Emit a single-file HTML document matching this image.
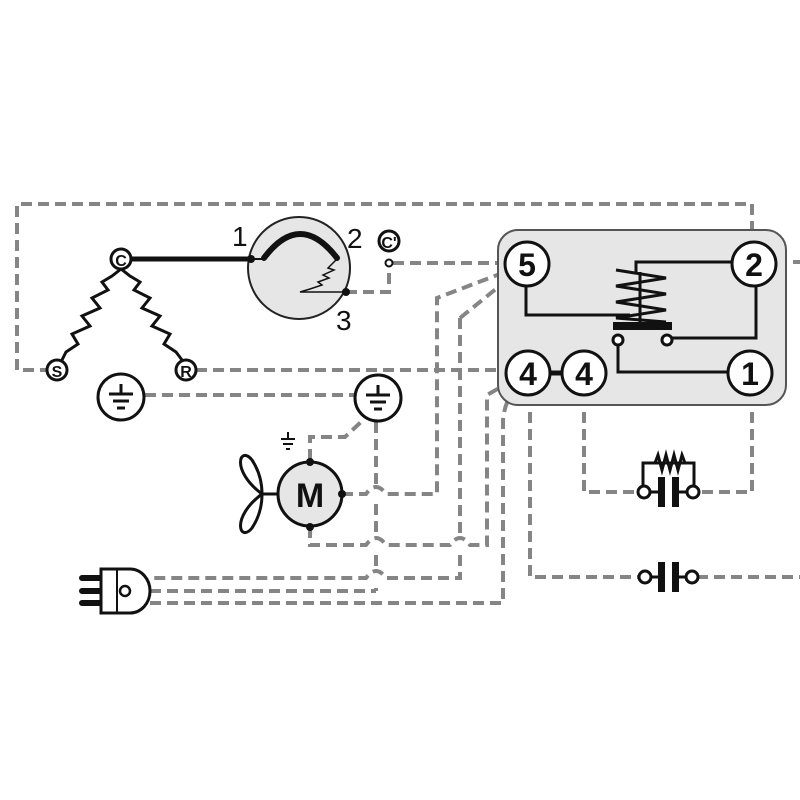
<!DOCTYPE html>
<html><head><style>body{margin:0;background:#fff}svg{display:block}</style></head><body>
<svg width="800" height="800" viewBox="0 0 800 800" xmlns="http://www.w3.org/2000/svg" font-family="Liberation Sans Narrow, Liberation Sans, sans-serif">
<g fill="none" stroke="#858585" stroke-width="4" stroke-dasharray="11 6">
<path d="M752 232 V204 H17 V370 H47"/>
<path d="M196 370 H506"/>
<path d="M145 395 H354"/>
<path d="M776 262 H800"/>
<path d="M346 292 H389 V267"/>
<path d="M393 263 H505"/>
<path d="M310 460 V437 H345 L362 421"/>
<path d="M376 422 V484 M376 504 V535 M376 555 V568 M376 588 V591"/>
<path d="M342 494 H366 Q376 480 386 494 H437 V298 L505 272"/>
<path d="M460 318 L507 280 M460 318 V535 M460 555 V578 H386 Q376 564 366 578 H150"/>
<path d="M310 527 V545 H366 Q376 531 386 545 H450 Q460 531 470 545 H487 V395 L508 383"/>
<path d="M150 591 H376"/>
<path d="M150 603 H503 V420 Q505 400 515 390"/>
<path d="M584 395 V492 H639"/>
<path d="M752 395 V492 H697"/>
<path d="M530 395 V577 H640"/>
<path d="M697 577 H800"/>
</g>
<rect x="498" y="230" width="288" height="175" rx="20" fill="#e6e6e6" stroke="#555" stroke-width="2"/>
<g stroke="#111" fill="none" stroke-width="3">
<path d="M526 280 V315 H630"/>
<path d="M732 262 H636 V272"/>
<path d="M756 285 V338 H672"/>
<path d="M618 345 V372 H728"/>
<path d="M616 270 L666 278 L616 286 L666 294 L616 302 L666 310 L616 318 L666 322" stroke-width="3"/>
<path d="M640 272 V326"/>
<path d="M131 259 H251" stroke-width="5"/>
<path d="M550 373 H562" stroke-width="5"/>
<path d="M121 269 L112 276 L102 282 L108 290 L92 298 L100 308 L82 316 L90 326 L72 334 L78 344 L66 352 L62 360"/>
<path d="M121 269 L130 276 L140 282 L134 290 L150 298 L142 308 L160 316 L152 326 L170 334 L164 344 L176 352 L182 360"/>
</g>
<circle cx="299" cy="268" r="51" fill="#e6e6e6" stroke="#222" stroke-width="2"/>
<path d="M264 258 Q300 210 337 258" fill="none" stroke="#111" stroke-width="6" stroke-linecap="round"/>
<path d="M251 259 H266" stroke="#111" stroke-width="2"/>
<path d="M336 260 L328 268 L334 270 L323 275 L329 278 L318 282 L322 285 L310 289 L300 292 H346" fill="none" stroke="#111" stroke-width="1.5"/>
<circle cx="251" cy="259" r="4" fill="#111"/>
<circle cx="346" cy="292" r="4" fill="#111"/>
<g font-size="28" fill="#111"><text x="232" y="246">1</text><text x="347" y="248">2</text><text x="336" y="330">3</text></g>
<g fill="#fff" stroke="#111" stroke-width="3">
<circle cx="121" cy="259" r="10"/><circle cx="57" cy="370" r="10"/><circle cx="186" cy="370" r="10"/><circle cx="389" cy="241" r="10"/>
<circle cx="121" cy="397" r="23"/><circle cx="378" cy="398" r="23"/>
<circle cx="527" cy="264" r="22"/><circle cx="754" cy="264" r="22"/><circle cx="528" cy="373" r="22"/><circle cx="584" cy="373" r="22"/><circle cx="750" cy="373" r="22"/>
</g>
<circle cx="389" cy="263" r="3.5" fill="#fff" stroke="#111" stroke-width="2"/>
<g font-weight="bold" fill="#111" text-anchor="middle">
<text x="121" y="266" font-size="16">C</text><text x="57" y="377" font-size="16">S</text><text x="186" y="377" font-size="16">R</text><text x="389" y="248" font-size="16">C'</text>
<text x="527" y="276" font-size="32">5</text><text x="754" y="276" font-size="32">2</text><text x="528" y="385" font-size="32">4</text><text x="584" y="385" font-size="32">4</text><text x="750" y="385" font-size="32">1</text>
</g>
<g stroke="#111" stroke-width="3">
<path d="M121 384 V394 M109 394 H133 M113 401 H129 M117 408 H125"/>
<path d="M378 385 V395 M366 395 H390 M370 402 H386 M374 409 H382"/>
<path d="M288 432 V439 M281 439 H295 M283 444 H293 M286 449 H290" stroke-width="2"/>
</g>
<rect x="613" y="322" width="59" height="8" fill="#111"/>
<circle cx="618" cy="340" r="5" fill="#fff" stroke="#111" stroke-width="3"/>
<circle cx="667" cy="340" r="5" fill="#fff" stroke="#111" stroke-width="3"/>
<circle cx="310" cy="494" r="32" fill="#e6e6e6" stroke="#111" stroke-width="3"/>
<text x="310" y="507" font-size="34" font-weight="bold" text-anchor="middle" fill="#111">M</text>
<circle cx="310" cy="462" r="4" fill="#111"/><circle cx="310" cy="527" r="4" fill="#111"/><circle cx="342" cy="494" r="4" fill="#111"/>
<path d="M278 494 H262 C230 470 240 445 252 460 C260 472 262 485 262 494 C262 503 260 516 252 528 C240 543 230 518 262 494" fill="none" stroke="#111" stroke-width="3"/>
<g stroke="#111" stroke-width="3" fill="none">
<path d="M643 487 V463 H694 V487 M643 463 H655 L658 455 L662 470 L666 455 L670 470 L674 455 L678 470 L682 455 L685 463"/>
</g>
<rect x="658" y="477" width="7" height="30" fill="#111"/><rect x="672" y="477" width="7" height="30" fill="#111"/>
<rect x="658" y="562" width="7" height="30" fill="#111"/><rect x="672" y="562" width="7" height="30" fill="#111"/>
<path d="M650 492 H658 M679 492 H688 M650 577 H658 M679 577 H688" stroke="#111" stroke-width="3"/>
<g fill="#fff" stroke="#111" stroke-width="3">
<circle cx="644" cy="492" r="6"/><circle cx="693" cy="492" r="6"/><circle cx="645" cy="577" r="6"/><circle cx="692" cy="577" r="6"/>
</g>
<g stroke="#111" stroke-width="6" stroke-linecap="round"><path d="M82 578 H100 M82 591 H100 M82 603 H100"/></g>
<path d="M101 569 H130 A20 22 0 0 1 130 613 H101 Z" fill="#fff" stroke="#111" stroke-width="3"/>
<path d="M117 569 V613" stroke="#111" stroke-width="2"/>
<circle cx="125" cy="591" r="5" fill="#fff" stroke="#111" stroke-width="2.5"/>
</svg>
</body></html>
